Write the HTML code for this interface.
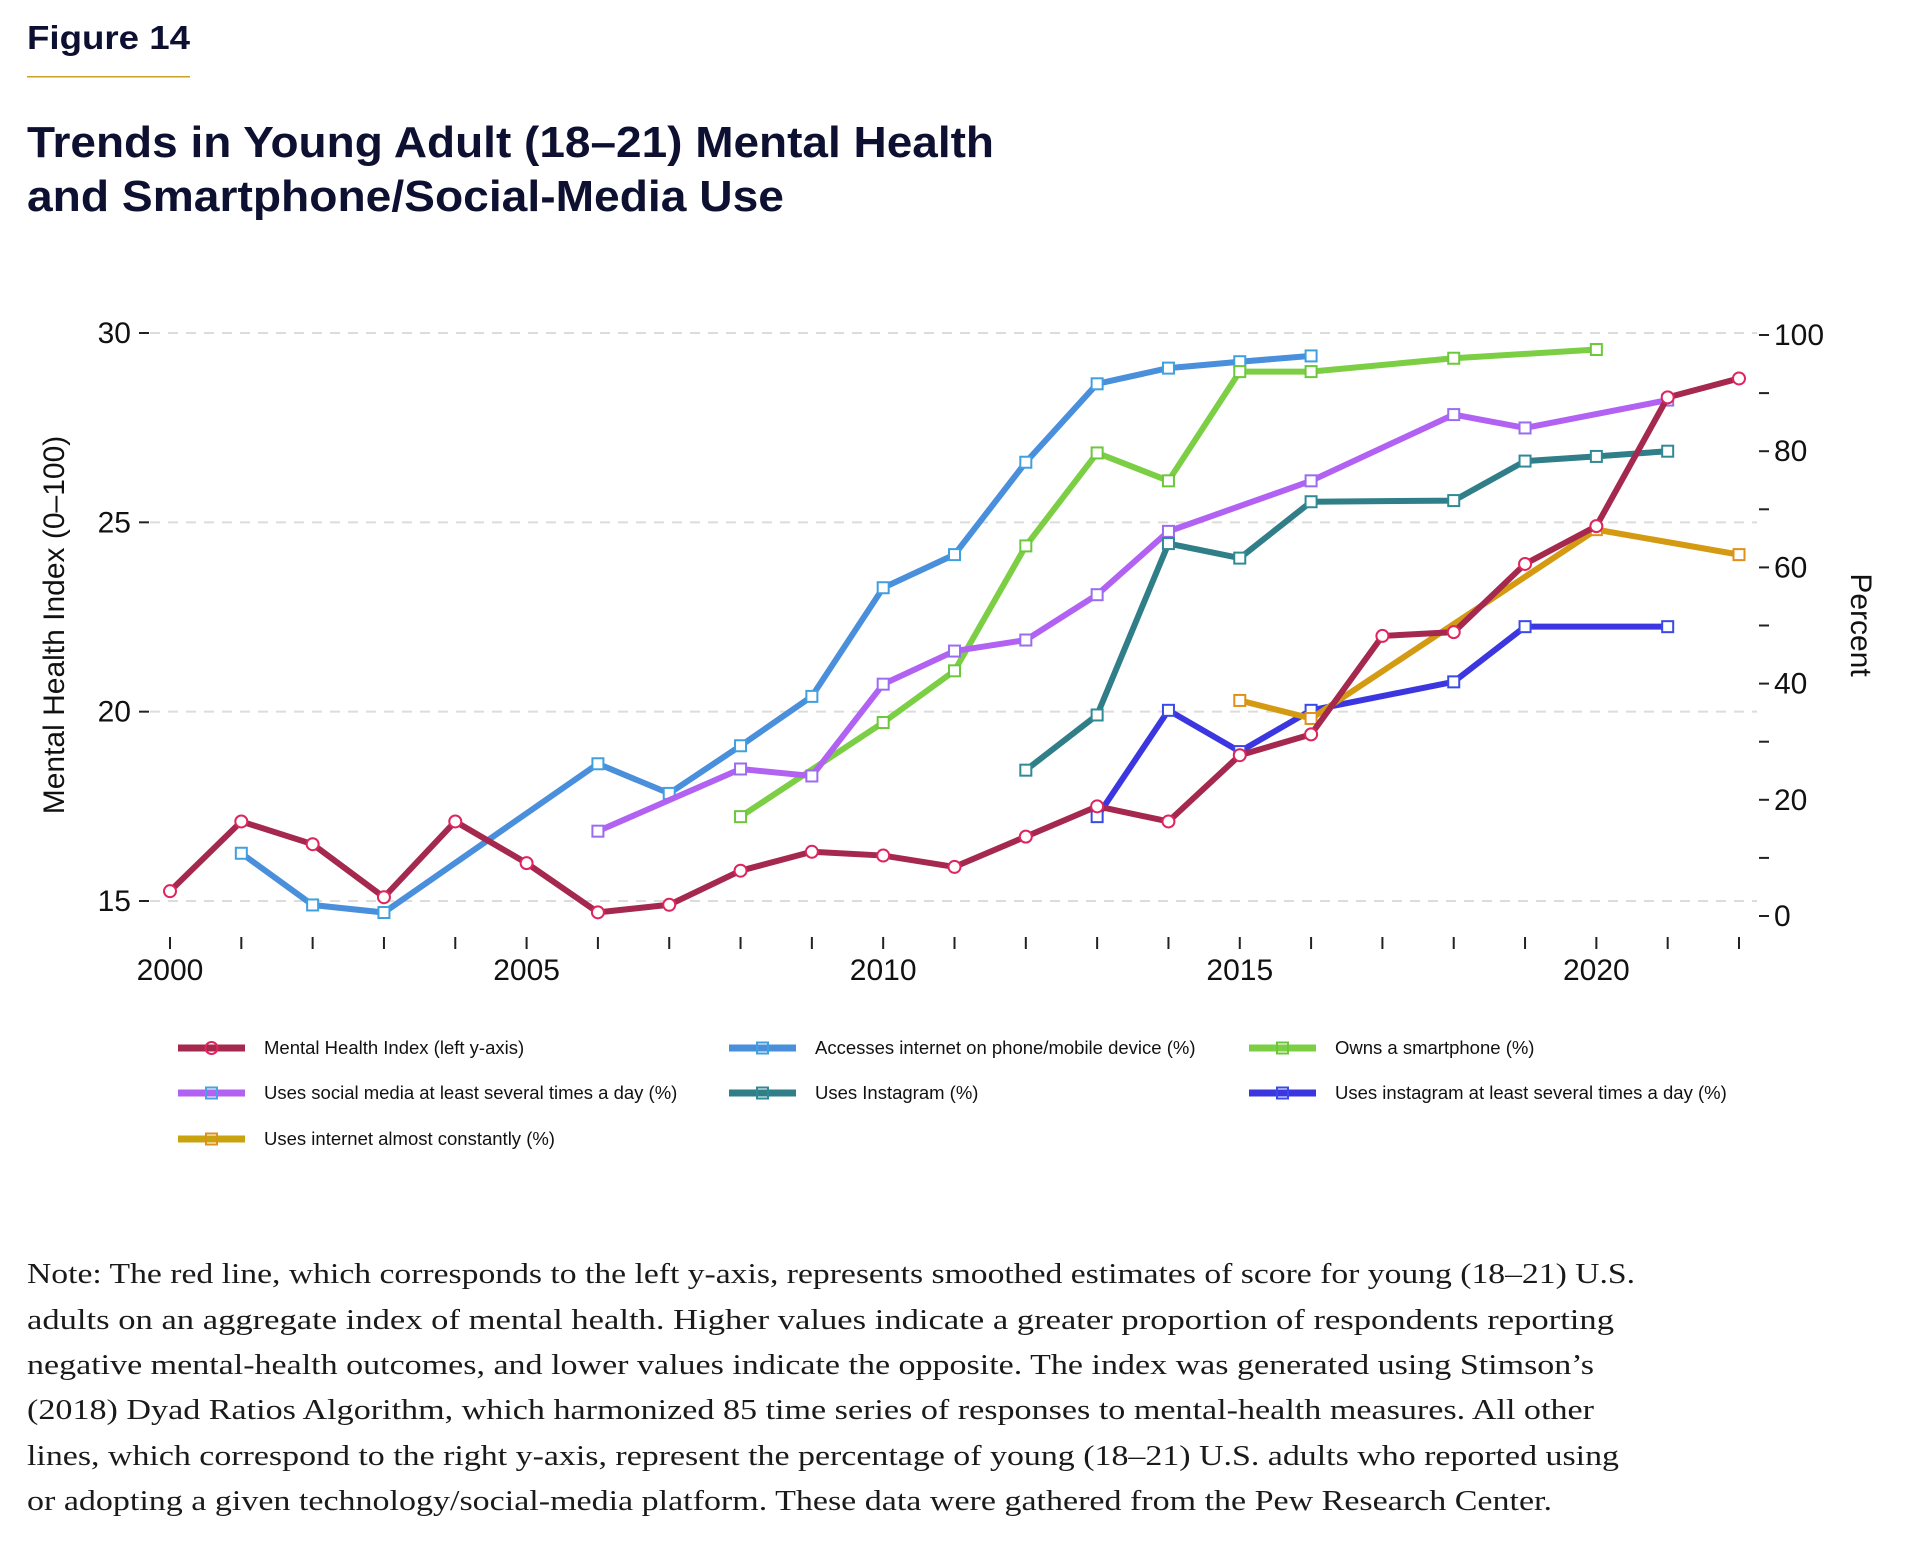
<!DOCTYPE html>
<html><head><meta charset="utf-8"><style>
html,body{margin:0;padding:0;background:#fff;}
svg{display:block;}
</style></head><body>
<svg id="chart" xmlns="http://www.w3.org/2000/svg" width="1920" height="1544" viewBox="0 0 1920 1544">
<rect width="1920" height="1544" fill="#fff"/>
<text x="27" y="49" font-family="Liberation Sans, sans-serif" font-weight="bold" font-size="33" fill="#0d1030" textLength="163" lengthAdjust="spacingAndGlyphs">Figure 14</text>
<rect x="27" y="76" width="163" height="1.5" fill="#c9a227"/>
<text x="27" y="157" font-family="Liberation Sans, sans-serif" font-weight="bold" font-size="44" fill="#0d1030" textLength="967" lengthAdjust="spacingAndGlyphs">Trends in Young Adult (18–21) Mental Health</text>
<text x="27" y="211" font-family="Liberation Sans, sans-serif" font-weight="bold" font-size="44" fill="#0d1030" textLength="757" lengthAdjust="spacingAndGlyphs">and Smartphone/Social-Media Use</text>
<g id="plot"></g>
<g id="legend"></g>
<g font-family="Liberation Serif, serif" font-size="29" fill="#1a1a1a">
<text x="27" y="1283" textLength="1608" lengthAdjust="spacingAndGlyphs">Note: The red line, which corresponds to the left y-axis, represents smoothed estimates of score for young (18–21) U.S.</text>
<text x="27" y="1329" textLength="1587" lengthAdjust="spacingAndGlyphs">adults on an aggregate index of mental health. Higher values indicate a greater proportion of respondents reporting</text>
<text x="27" y="1374" textLength="1567" lengthAdjust="spacingAndGlyphs">negative mental-health outcomes, and lower values indicate the opposite. The index was generated using Stimson’s</text>
<text x="27" y="1419" textLength="1567" lengthAdjust="spacingAndGlyphs">(2018) Dyad Ratios Algorithm, which harmonized 85 time series of responses to mental-health measures. All other</text>
<text x="27" y="1465" textLength="1592" lengthAdjust="spacingAndGlyphs">lines, which correspond to the right y-axis, represent the percentage of young (18–21) U.S. adults who reported using</text>
<text x="27" y="1510" textLength="1525" lengthAdjust="spacingAndGlyphs">or adopting a given technology/social-media platform. These data were gathered from the Pew Research Center.</text>
</g>
</svg>
<script>
const NS="http://www.w3.org/2000/svg";
const years=[2000,2001,2002,2003,2004,2005,2006,2007,2008,2009,2010,2011,2012,2013,2014,2015,2016,2017,2018,2019,2020,2021,2022];
const leftTicks=[15,20,25,30];
const rightTicks=[0,20,40,60,80,100];
const xTickLabels=[2000,2005,2010,2015,2020];
const mhYears=[2000,2001,2002,2003,2004,2005,2006,2007,2008,2009,2010,2011,2012,2013,2014,2015,2016,2017,2018,2019,2020,2021,2022];
const mhValues=[15.26,17.1,16.5,15.1,17.1,16.0,14.7,14.9,15.8,16.3,16.2,15.9,16.7,17.5,17.1,18.85,19.4,22.0,22.1,23.9,24.9,28.3,28.8];
const phoneYears=[2001,2002,2003,2006,2007,2008,2009,2010,2011,2012,2013,2014,2015,2016];
const phoneValues=[10.8,1.9,0.6,26.2,21.1,29.3,37.8,56.5,62.2,78.1,91.6,94.3,95.4,96.4];
const smartYears=[2008,2010,2011,2012,2013,2014,2015,2016,2018,2020];
const smartValues=[17.1,33.3,42.2,63.7,79.7,74.9,93.7,93.7,96.0,97.5];
const socialYears=[2006,2008,2009,2010,2011,2012,2013,2014,2016,2018,2019,2021];
const socialValues=[14.6,25.3,24.1,39.9,45.6,47.5,55.3,66.2,74.9,86.3,84.0,88.8];
const instaYears=[2012,2013,2014,2015,2016,2018,2019,2020,2021];
const instaValues=[25.1,34.6,64.1,61.6,71.3,71.5,78.3,79.1,80.0];
const instaFreqYears=[2013,2014,2015,2016,2018,2019,2021];
const instaFreqValues=[17.1,35.4,28.3,35.4,40.3,49.8,49.8];
const constYears=[2015,2016,2020,2022];
const constValues=[37.1,34.0,66.5,62.2];

const X0=170,X1=1739,XL=150,XR=1757;
const xs=y=>X0+(y-2000)*(X1-X0)/22;
const yl=v=>901-(v-15)*(901-333)/15;
const yr=v=>916-v*(916-335)/100;
const plot=document.getElementById('plot');
function el(tag,attrs,parent){const e=document.createElementNS(NS,tag);for(const k in attrs)e.setAttribute(k,attrs[k]);(parent||plot).appendChild(e);return e;}
const F="Liberation Sans, sans-serif";
leftTicks.forEach(t=>{
  const g=el('line',{x1:XL,x2:XR,y1:yl(t),y2:yl(t),stroke:'#dcdcdc','stroke-width':2,'stroke-dasharray':'10,8'});
  
  
  el('line',{x1:139,x2:149,y1:yl(t),y2:yl(t),stroke:'#222','stroke-width':2});
  const tx=el('text',{x:131,y:yl(t)+10,'text-anchor':'end','font-family':F,'font-size':30,fill:'#111'});
  tx.textContent=t;
  
  
});
for(let v=0;v<=100;v+=10){
  el('line',{x1:1759,x2:1769,y1:yr(v),y2:yr(v),stroke:'#222','stroke-width':2});
}
rightTicks.forEach(t=>{
  const tx=el('text',{x:1774,y:yr(t)+10,'font-family':F,'font-size':30,fill:'#111'});
  tx.textContent=t;
  
  
});
years.forEach(y=>{el('line',{x1:xs(y),x2:xs(y),y1:937,y2:949,stroke:'#222','stroke-width':2});});
xTickLabels.forEach(y=>{
  const tx=el('text',{x:xs(y),y:980,'text-anchor':'middle','font-family':F,'font-size':30,fill:'#111'});
  tx.textContent=y;
  
  
});
const yt=el('text',{x:0,y:0,transform:'translate(64,625) rotate(-90)','text-anchor':'middle','font-family':F,'font-size':30,fill:'#111'});
yt.textContent='Mental Health Index (0–100)';


const yt2=el('text',{x:0,y:0,transform:'translate(1851,625) rotate(90)','text-anchor':'middle','font-family':F,'font-size':30,fill:'#111'});
yt2.textContent='Percent';



const series=[
 {name:'phone-access',yrs:phoneYears,vals:phoneValues,color:'#4a8fdc',mk:'#3fa0e0',sq:true,ax:yr},
 {name:'smartphone',yrs:smartYears,vals:smartValues,color:'#7ccf45',mk:'#6cc83a',sq:true,ax:yr},
 {name:'social-media-daily',yrs:socialYears,vals:socialValues,color:'#b262f2',mk:'#9a6cf0',sq:true,ax:yr},
 {name:'instagram',yrs:instaYears,vals:instaValues,color:'#2f7e88',mk:'#2f8a96',sq:true,ax:yr},
 {name:'instagram-daily',yrs:instaFreqYears,vals:instaFreqValues,color:'#3b36e0',mk:'#3a4ae8',sq:true,ax:yr},
 {name:'internet-constantly',yrs:constYears,vals:constValues,color:'#d49a12',mk:'#e0901a',sq:true,ax:yr},
 {name:'mental-health-index',yrs:mhYears,vals:mhValues,color:'#a5284e',mk:'#e0245e',sq:false,ax:yl}
];
series.forEach(s=>{
  const g=el('g',{});
  
  
  const pts=s.yrs.map((y,i)=>xs(y)+','+s.ax(s.vals[i])).join(' ');
  const pl=el('polyline',{points:pts,fill:'none',stroke:s.color,'stroke-width':6,'stroke-linejoin':'round'},g);
  
  
  s.yrs.forEach((y,i)=>{
    const cx=xs(y),cy=s.ax(s.vals[i]);
    let m;
    if(s.sq) m=el('rect',{x:cx-5.5,y:cy-5.5,width:11,height:11,fill:'#fff',stroke:s.mk,'stroke-width':2},g);
    else m=el('circle',{cx:cx,cy:cy,r:6,fill:'#fff',stroke:s.mk,'stroke-width':2},g);
    
    
  });
});
const legend=document.getElementById('legend');
const legItems=[
 {t:'Mental Health Index (left y-axis)',c:'#a5284e',m:'#e0245e',x:178,y:1048,sq:false},
 {t:'Accesses internet on phone/mobile device (%)',c:'#4a8fdc',m:'#3fa0e0',x:729,y:1048,sq:true},
 {t:'Owns a smartphone (%)',c:'#7ccf45',m:'#6cc83a',x:1249,y:1048,sq:true},
 {t:'Uses social media at least several times a day (%)',c:'#b262f2',m:'#4aa0e0',x:178,y:1093,sq:true},
 {t:'Uses Instagram (%)',c:'#2f7e88',m:'#2f8a96',x:729,y:1093,sq:true},
 {t:'Uses instagram at least several times a day (%)',c:'#3b36e0',m:'#3a4ae8',x:1249,y:1093,sq:true},
 {t:'Uses internet almost constantly (%)',c:'#c9a20f',m:'#e0901a',x:178,y:1139,sq:true}
];
legItems.forEach((it,i)=>{
  const g=el('g',{},legend);
  
  
  el('line',{x1:it.x,x2:it.x+67,y1:it.y,y2:it.y,stroke:it.c,'stroke-width':7},g);
  if(it.sq) el('rect',{x:it.x+28,y:it.y-5.5,width:11,height:11,fill:'none',stroke:it.m,'stroke-width':2},g);
  else el('circle',{cx:it.x+33.5,cy:it.y,r:6,fill:'none',stroke:it.m,'stroke-width':2},g);
  const tx=el('text',{x:it.x+86,y:it.y+6,'font-family':F,'font-size':18.5,fill:'#111'},g);
  tx.textContent=it.t;
});
</script>
</body></html>
